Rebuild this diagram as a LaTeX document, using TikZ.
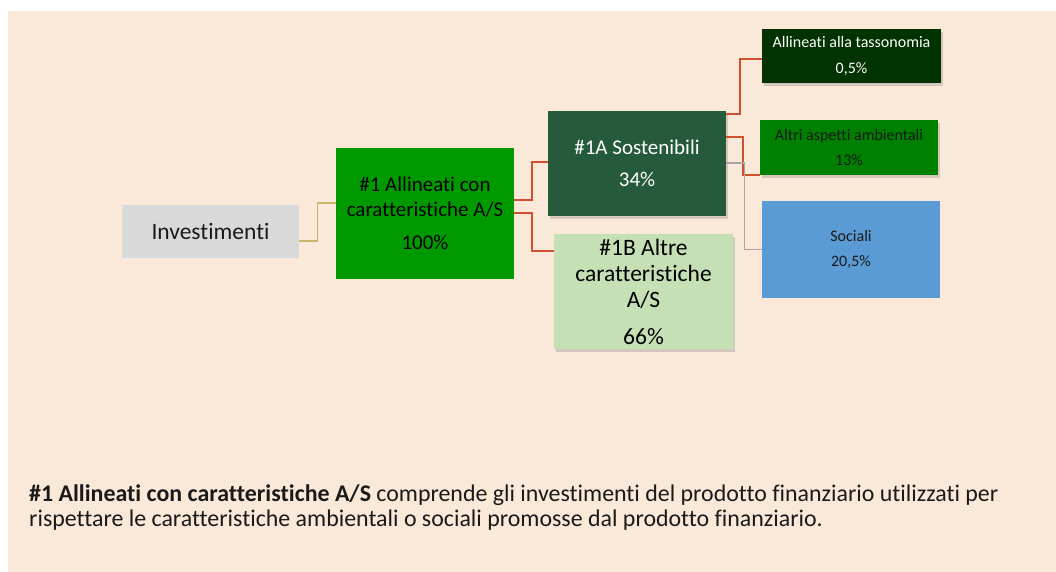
\documentclass[tikz,border=0pt]{standalone}
\usepackage{fontspec}
\setmainfont{Carlito}[Ligatures=NoCommon]
\usetikzlibrary{shadows}
\definecolor{bgpeach}{HTML}{FAE8D8}
\definecolor{invgray}{HTML}{D9D9D9}
\definecolor{brightgreen}{HTML}{009900}
\definecolor{sostgreen}{HTML}{255A3B}
\definecolor{lightgreen}{HTML}{C5E0B4}
\definecolor{darkgreen}{HTML}{013301}
\definecolor{midgreen}{HTML}{008000}
\definecolor{socblue}{HTML}{5B9BD5}
\definecolor{linered}{HTML}{D0502F}
\definecolor{linegold}{HTML}{C9B46A}
\definecolor{linegray}{HTML}{A6A6A6}
\definecolor{txtdark}{HTML}{1A1A1A}
\begin{document}
\begin{tikzpicture}[x=1pt,y=-1pt,
  box/.style={rectangle, inner sep=0pt, align=center, anchor=center, text=txtdark},
  shadowed/.style={drop shadow={shadow xshift=2pt, shadow yshift=-3pt, opacity=0.25, fill=black!60}},
  redline/.style={draw=linered, line width=1.8pt},
  goldline/.style={draw=linegold, line width=1.3pt},
  grayline/.style={draw=linegray, line width=1.3pt}]
\fill[white] (0,0) rectangle (1056,572);
\fill[bgpeach] (8,11) rectangle (1056,572);
\useasboundingbox (0,0) rectangle (1056,572);

\node[box, fill=invgray, minimum width=177pt, minimum height=53pt,
  font=\fontsize{23.5}{28}\selectfont] (inv) at (210.5,231.5) {Investimenti};
\node[box, fill=brightgreen, minimum width=178pt, minimum height=131pt,
  font=\fontsize{21}{25}\selectfont, text=black] (a1) at (425,213.5)
  {\#1 Allineati con\\caratteristiche A/S\\[8pt]100\%};
\node[box, shadowed, fill=sostgreen, minimum width=178pt, minimum height=105pt,
  font=\fontsize{21}{25}\selectfont, text=white] (a1A) at (637,163.5)
  {\#1A Sostenibili\\[7pt]34\%};
\node[box, shadowed, fill=lightgreen, minimum width=179pt, minimum height=115pt,
  font=\fontsize{23.5}{26}\selectfont, text=black] (a1B) at (643.5,291.5)
  {\#1B Altre\\caratteristiche\\A/S\\[11pt]66\%};
\node[box, shadowed, fill=darkgreen, minimum width=179pt, minimum height=54pt,
  font=\fontsize{16}{26}\selectfont, text=white] (tax) at (851.5,56)
  {Allineati alla tassonomia\\0,5\%};
\node[box, shadowed, fill=midgreen, minimum width=178pt, minimum height=55pt,
  font=\fontsize{16}{25}\selectfont, text=txtdark] (altri) at (849,147.5)
  {Altri aspetti ambientali\\13\%};
\node[box, fill=socblue, minimum width=178pt, minimum height=97pt,
  font=\fontsize{16}{25}\selectfont, text=txtdark] (soc) at (851,249.5)
  {Sociali\\20,5\%};

\draw[goldline] ([yshift=-9.5pt]inv.east) -- ++(18,0) |- ([yshift=10.5pt]a1.west);
\draw[redline] ([yshift=13.5pt]a1.east) -- ++(18,0) |- ([yshift=1.5pt]a1A.west);
\draw[redline] ([yshift=0.5pt]a1.east) -- ++(18,0) |- ([yshift=40.5pt]a1B.west);
\draw[redline] ([yshift=49.5pt]a1A.east) -- ++(14,0) |- ([yshift=-3pt]tax.west);
\draw[redline] ([yshift=26.5pt]a1A.east) -- ++(17,0) |- (altri.south west);
\draw[grayline] ([yshift=0.5pt]a1A.east) -- ++(18,0) |- (soc.west);

\node[anchor=base west, inner sep=0pt, align=left, text=txtdark,
  font=\fontsize{23.9}{25}\selectfont] (desc) at (29,526)
  {\textbf{\#1 Allineati con caratteristiche A/S} comprende gli investimenti del prodotto finanziario utilizzati per\\
   rispettare le caratteristiche ambientali o sociali promosse dal prodotto finanziario.};
\end{tikzpicture}
\end{document}
